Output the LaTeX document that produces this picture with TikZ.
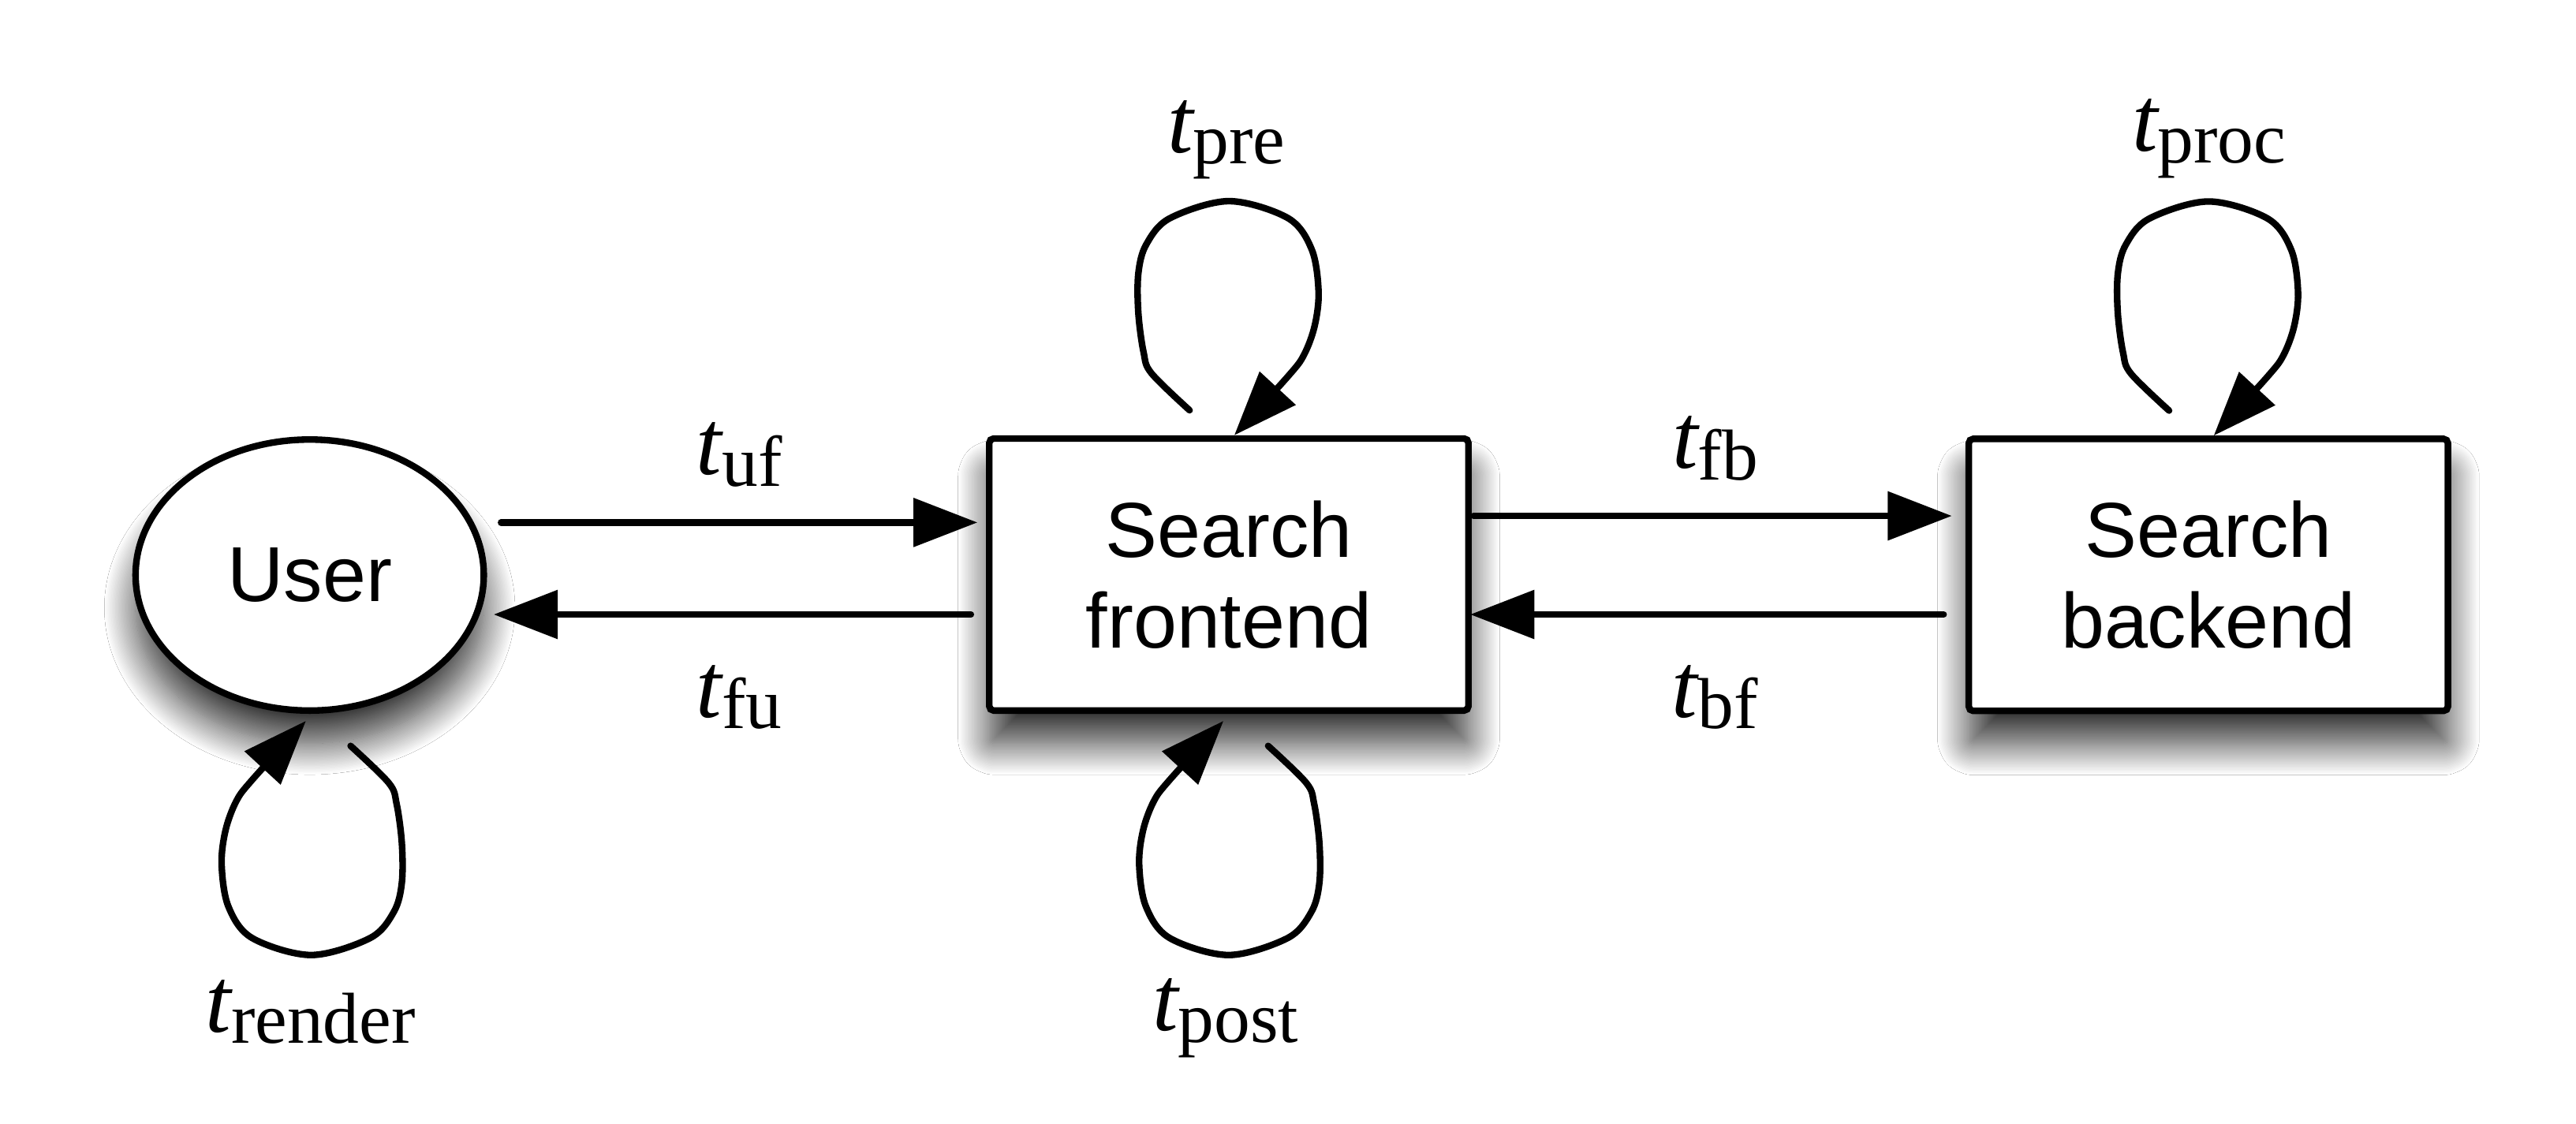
\documentclass[tikz,border=0pt]{standalone}
\usepackage{fontspec}
\setmainfont{Liberation Sans}
\newfontfamily\tms{Liberation Serif}
\usetikzlibrary{arrows.meta,shadows.blur,calc,shapes.geometric}
\newcommand\tlab[1]{{\tms\fontsize{32}{36}\selectfont\itshape t}\raisebox{-0.14cm}{\tms\fontsize{25}{30}\selectfont #1}}
\begin{document}
\begin{tikzpicture}[x=0.02cm,y=-0.02cm,
  line width=0.08cm,
  shad/.style={blur shadow={shadow xshift=0cm,shadow yshift=-0.4cm,shadow blur radius=0.38cm,shadow blur steps=30,shadow opacity=80}},
  boxnode/.style={draw,fill=white,rectangle,minimum width=5.834cm,minimum height=3.312cm,inner sep=0pt,outer sep=0pt,align=center,font=\fontsize{27}{31.3}\selectfont,rounded corners=1.5pt,shad},
  usernode/.style={draw,fill=white,ellipse,minimum width=4.24cm,minimum height=3.3cm,inner sep=0pt,outer sep=0pt,font=\fontsize{27}{31.3}\selectfont,shad},
  arr/.style={line cap=round,-{Triangle[length=0.78cm,width=0.58cm]}},
  lab/.style={anchor=base,inner sep=0pt,outer sep=0pt},
  selfloop/.pic={\draw[arr,line join=round] plot[smooth,tension=0.55] coordinates {(-23.9,-17.2) (-47.1,-39.7) (-51.9,-52.4) (-55.1,-76.4) (-55.1,-100.5) (-50.3,-118.1) (-35.9,-134.1) (0.1,-144.5) (36.1,-134.1) (50.5,-114.9) (54.6,-89.3) (52.2,-68.5) (45.7,-50.9) (36.1,-38) (3.3,-2)};}
]
\fill[white] (0,0) rectangle (1568,684);
\useasboundingbox (0,0) rectangle (1568,684);

\node[usernode] (user) at (188.5,350) {User};
\node[boxnode] (fe) at (748,349.7) {Search\\frontend};
\node[boxnode] (be) at (1344.2,349.9) {Search\\backend};

\draw[arr] ($(user.east)+(10.5,-32)$) -- ($(fe.west)+(-7.2,-31.7)$);
\draw[arr] ($(fe.west)+(-11.2,24.3)$) -- ($(user.east)+(6,24)$);
\draw[arr] ($(fe.east)+(3.1,-35.7)$) -- ($(be.west)+(-10.3,-35.9)$);
\draw[arr] ($(be.west)+(-15.3,24.1)$) -- ($(fe.east)+(1.1,24.3)$);

\pic at (fe.north) {selfloop};
\pic at (be.north) {selfloop};
\pic[rotate=180] at ($(fe.south)+(0,4.3)$) {selfloop};
\pic[rotate=180] at ($(user.south)+(1,4.3)$) {selfloop};

\node[lab] (tpre) at (746.5,92.7) {\tlab{pre}};
\node[lab] (tproc) at (1344.6,92) {\tlab{proc}};
\node[lab] (tuf) at (450,289) {\tlab{uf}};
\node[lab] (tfu) at (449.8,436.6) {\tlab{fu}};
\node[lab] (tfb) at (1044,285) {\tlab{fb}};
\node[lab] (tbf) at (1043.8,436.6) {\tlab{bf}};
\node[lab] (trender) at (189,628) {\tlab{render}};
\node[lab] (tpost) at (746,627.3) {\tlab{post}};
\end{tikzpicture}
\end{document}
